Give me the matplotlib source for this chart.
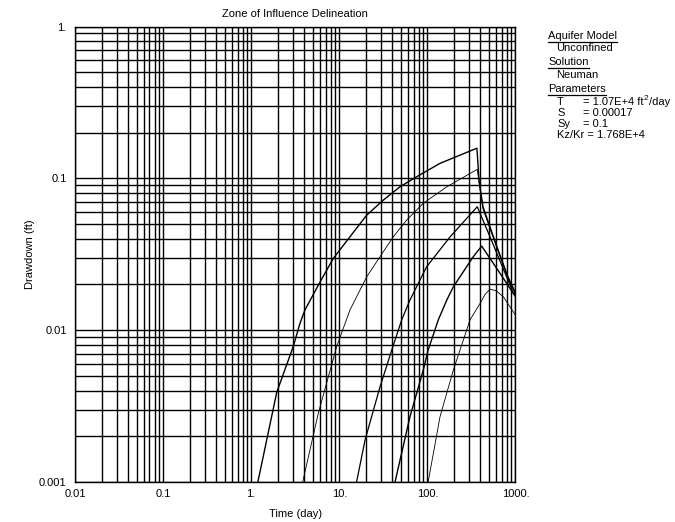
import numpy as np
import matplotlib
matplotlib.use("Agg")
import matplotlib.pyplot as plt
from matplotlib.ticker import LogLocator, FixedLocator, NullFormatter
from matplotlib.lines import Line2D

plt.rcParams['font.family'] = ['Liberation Sans', 'DejaVu Sans']

# drawdown curves (time in days, drawdown in ft)
t1 = [1.19, 1.95, 3.0, 3.58, 4.08, 5.78, 8.55, 13.2, 20.5, 31.6, 48.9, 75.6, 139, 365,
      385, 428, 617, 822, 1000]
s1 = [0.001, 0.0039, 0.0078, 0.0111, 0.0136, 0.0198, 0.0297, 0.0412, 0.0573, 0.0719, 0.088, 0.1025, 0.1255, 0.158,
      0.0975, 0.0647, 0.0353, 0.0224, 0.0176]

t2 = [3.84, 5.78, 9.34, 13.2, 20.5, 29.0, 41.0, 58.2, 89.8, 166, 368, 390, 428, 617, 822, 1000]
s2 = [0.001, 0.00284, 0.0078, 0.01356, 0.0225, 0.0305, 0.0412, 0.0531, 0.0685, 0.088, 0.1146,
      0.0903, 0.0628, 0.0346, 0.0220, 0.0172]

t3 = [15.7, 19.6, 29.0, 39.4, 51.1, 63.4, 98.2, 181, 368, 514, 944, 1000]
s3 = [0.001, 0.00189, 0.00424, 0.0074, 0.0117, 0.0158, 0.0262, 0.0412, 0.065, 0.0412, 0.0176, 0.0170]

t4 = [42.9, 63.4, 89.8, 102, 133, 166, 197, 332, 413, 667, 1000]
s4 = [0.001, 0.00269, 0.00546, 0.0074, 0.0117, 0.0158, 0.0193, 0.0305, 0.0358, 0.0237, 0.0166]

t5 = [102, 139, 197, 305, 396, 451, 514, 601, 727, 1000]
s5 = [0.001, 0.00269, 0.00546, 0.0117, 0.0150, 0.0172, 0.0186, 0.0182, 0.0166, 0.01257]

curves = [(t1, s1, 1.0), (t2, s2, 0.6), (t3, s3, 0.9), (t4, s4, 1.0), (t5, s5, 0.6)]

x_ticks = [0.01, 0.1, 1, 10, 100, 1000]
x_labels = ["0.01", "0.1", "1.", "10.", "100.", "1000."]
y_ticks = [0.001, 0.01, 0.1, 1]
y_labels = ["0.001", "0.01", "0.1", "1."]

fig = plt.figure(figsize=(6.75, 5.22), dpi=100)
ax = fig.add_axes([0.1111, 0.0766, 0.6526, 0.8726])

ax.set_xscale('log')
ax.set_yscale('log')
ax.set_xlim(0.01, 1000)
ax.set_ylim(0.001, 1)

for t, s, lw in curves:
    ax.plot(t, s, color='black', lw=lw, zorder=3)

ax.xaxis.set_major_locator(FixedLocator(x_ticks))
ax.set_xticklabels(x_labels)
ax.yaxis.set_major_locator(FixedLocator(y_ticks))
ax.set_yticklabels(y_labels)
ax.xaxis.set_minor_locator(LogLocator(base=10, subs=np.arange(2, 10)))
ax.yaxis.set_minor_locator(LogLocator(base=10, subs=np.arange(2, 10)))
ax.xaxis.set_minor_formatter(NullFormatter())
ax.yaxis.set_minor_formatter(NullFormatter())

ax.grid(True, which='both', color='black', lw=1.0)
ax.set_axisbelow(True)
ax.tick_params(which='both', length=0, labelsize=8, colors='black')
ax.tick_params(axis='x', pad=5)
ax.tick_params(axis='y', pad=6)
for sp in ax.spines.values():
    sp.set_linewidth(1.0)

ax.set_title("Zone of Influence Delineation", fontsize=8, pad=7)
ax.set_xlabel("Time (day)", fontsize=8, labelpad=7)
ax.set_ylabel("Drawdown (ft)", fontsize=8, labelpad=3)

# side panel with model info, positions in pixels from top-left
W, H = 675.0, 522.0
fig.canvas.draw()
renderer = fig.canvas.get_renderer()

def ftxt(x, y, s, underline=False, size=8):
    txt = fig.text(x / W, 1 - y / H, s, fontsize=size, va='center', ha='left')
    bb = txt.get_window_extent(renderer=renderer)
    if underline:
        yy = 1 - (y + 5.5) / H
        fig.add_artist(Line2D([bb.x0 / W, bb.x1 / W], [yy, yy], color='black', lw=0.9,
                              transform=fig.transFigure))
    return bb.x1

ftxt(548, 36, "Aquifer Model", underline=True)
ftxt(556, 48, "Unconfined")
ftxt(548, 62, "Solution", underline=True)
ftxt(556, 75, "Neuman")
ftxt(548, 89, "Parameters", underline=True)

ftxt(557, 102, "T")
xe = ftxt(583, 102, "= 1.07E+4 ft")
xe = ftxt(xe + 0.5, 99, "2", size=6)
ftxt(xe + 0.5, 102, "/day")
ftxt(557, 113, "S")
ftxt(583, 113, "= 0.00017")
ftxt(557, 124, "Sy")
ftxt(583, 124, "= 0.1")
ftxt(557, 135, "Kz/Kr = 1.768E+4")

fig.savefig("out.png", dpi=100)
